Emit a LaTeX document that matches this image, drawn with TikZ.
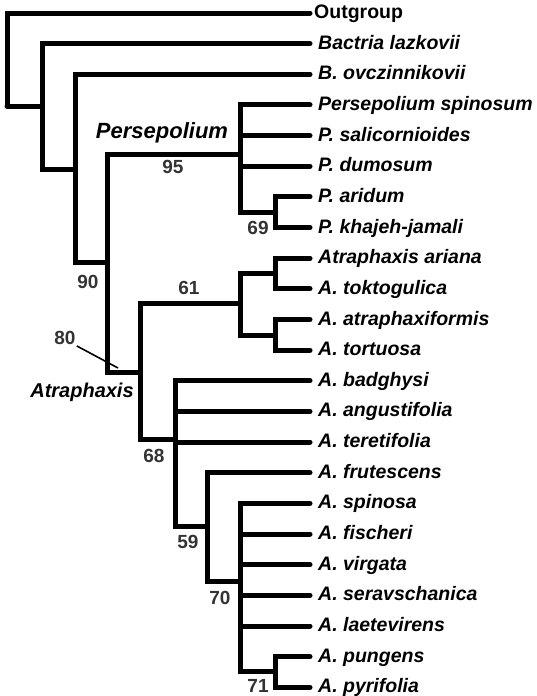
\documentclass[tikz,border=0pt]{standalone}
\usepackage{fontspec}
\setmainfont{Liberation Sans}
\usetikzlibrary{positioning}
\definecolor{Supp}{HTML}{333333}

\tikzset{
  branch/.style={line width=5pt,line cap=round},
  taxon/.style={anchor=base west,inner sep=0pt,font=\bfseries\itshape\fontsize{19.5}{20}\selectfont},
  supp/.style={inner sep=1pt,text=Supp,font=\bfseries\fontsize{19}{20}\selectfont},
  clade/.style={inner sep=1pt,font=\bfseries\itshape\fontsize{#1}{22}\selectfont}
}

\begin{document}
\begin{tikzpicture}[x=1pt,y=-1pt]
  \useasboundingbox (0,0) rectangle (537,696);
  % leaf tips and names
  \foreach \i/\name in {1/Bactria lazkovii,2/B. ovczinnikovii,3/Persepolium spinosum,
      4/P. salicornioides,5/P. dumosum,6/P. aridum,7/P. khajeh-jamali,8/Atraphaxis ariana,
      9/A. toktogulica,10/A. atraphaxiformis,11/A. tortuosa,12/A. badghysi,13/A. angustifolia,
      14/A. teretifolia,15/A. frutescens,16/A. spinosa,17/A. fischeri,18/A. virgata,
      19/A. seravschanica,20/A. laetevirens,21/A. pungens,22/A. pyrifolia}{
    \coordinate (t\i) at (310,13+30.65*\i);
    \node[taxon] (lab\i) at ([xshift=8pt,yshift=-5.5pt]t\i) {\name};
  }
  \coordinate (t0) at (310,13);
  \node[taxon,font=\bfseries\fontsize{19.5}{20}\selectfont] (lab0) at ([xshift=4pt,yshift=-5pt]t0) {Outgroup};

  % internal nodes
  \coordinate (root) at (7,106);
  \coordinate (n1) at (42,106);
  \coordinate (n2) at (75,169);
  \coordinate (n3) at (107,262);
  \coordinate (pers) at (240,154);
  \coordinate (p2) at (275,212);
  \coordinate (atr) at (140,372);
  \coordinate (a1) at (240,303);
  \coordinate (a2) at (275,273);
  \coordinate (a3) at (275,335);
  \coordinate (a4) at (175,439);
  \coordinate (a5) at (207,526);
  \coordinate (a6) at (240,581);
  \coordinate (a7) at (275,671);

  % branches
  \draw[branch] (root) |- (t0);
  \draw[branch] (root) |- (n1);
  \draw[branch] (n1) |- (t1);
  \draw[branch] (n1) |- (n2);
  \draw[branch] (n2) |- (t2);
  \draw[branch] (n2) |- (n3);
  \draw[branch] (n3) |- (pers);
  \draw[branch] (n3) |- (atr);
  \foreach \i in {3,4,5} \draw[branch] (pers) |- (t\i);
  \draw[branch] (pers) |- (p2);
  \foreach \i in {6,7} \draw[branch] (p2) |- (t\i);
  \draw[branch] (atr) |- (a1);
  \draw[branch] (atr) |- (a4);
  \draw[branch] (a1) |- (a2);
  \draw[branch] (a1) |- (a3);
  \foreach \i in {8,9} \draw[branch] (a2) |- (t\i);
  \foreach \i in {10,11} \draw[branch] (a3) |- (t\i);
  \foreach \i in {12,13,14} \draw[branch] (a4) |- (t\i);
  \draw[branch] (a4) |- (a5);
  \draw[branch] (a5) |- (t15);
  \draw[branch] (a5) |- (a6);
  \foreach \i in {16,...,20} \draw[branch] (a6) |- (t\i);
  \draw[branch] (a6) |- (a7);
  \foreach \i in {21,22} \draw[branch] (a7) |- (t\i);

  % clade names
  \node[clade=22] (cPers) at (162,133) {Persepolium};
  \node[clade=20] (cAtr) at (82,392) {Atraphaxis};

  % support values
  \node[supp] (s95) at (173,167) {95};
  \node[supp] (s69) at (258,228) {69};
  \node[supp] (s90) at (88,282) {90};
  \node[supp] (s61) at (189,288) {61};
  \node[supp] (s80) at (65,338) {80};
  \node[supp] (s68) at (154,456) {68};
  \node[supp] (s59) at (188,542) {59};
  \node[supp] (s70) at (220,598) {70};
  \node[supp] (s71) at (258,686) {71};
  \coordinate (p80) at (118,368);
  \draw[line width=1.6pt] (s80.south east) -- (p80);
\end{tikzpicture}
\end{document}
